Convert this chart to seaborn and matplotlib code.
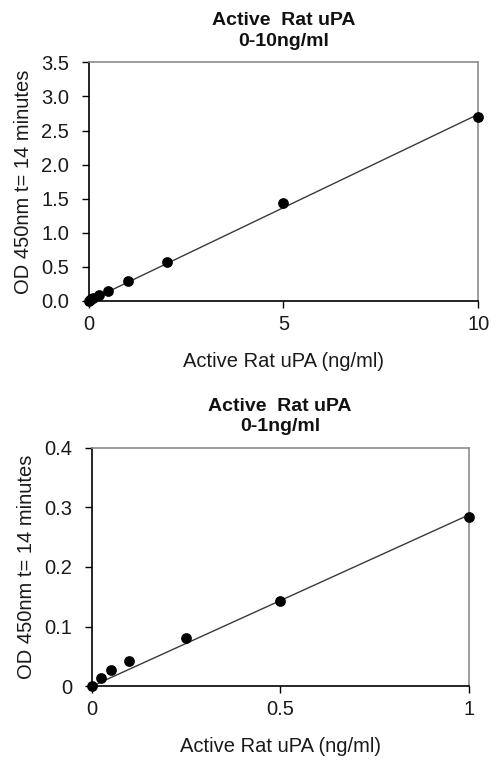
"""
Active Rat uPA standard curves (0-10 ng/ml and 0-1 ng/ml).
"""

import matplotlib
matplotlib.use("Agg")
import matplotlib.pyplot as plt
import numpy as np
import seaborn as sns

sns.set_theme(style="white")
plt.rcParams["font.family"] = ["Liberation Sans", "DejaVu Sans"]

# 0-10 ng/ml curve
conc_high = [0, 0.025, 0.05, 0.1, 0.25, 0.5, 1, 2, 5, 10]
od_high = [0.0, 0.014, 0.027, 0.042, 0.085, 0.148, 0.29, 0.565, 1.43, 2.70]
xticks_high = [0, 5, 10]
xticklabels_high = ["0", "5", "10"]
yticks_high = [0, 0.5, 1.0, 1.5, 2.0, 2.5, 3.0, 3.5]
yticklabels_high = ["0.0", "0.5", "1.0", "1.5", "2.0", "2.5", "3.0", "3.5"]

# 0-1 ng/ml curve
conc_low = [0, 0.025, 0.05, 0.1, 0.25, 0.5, 1]
od_low = [0.001, 0.014, 0.027, 0.042, 0.081, 0.143, 0.283]
xticks_low = [0, 0.5, 1]
xticklabels_low = ["0", "0.5", "1"]
yticks_low = [0, 0.1, 0.2, 0.3, 0.4]
yticklabels_low = ["0", "0.1", "0.2", "0.3", "0.4"]

TITLE = "Active  Rat uPA"
XLABEL = "Active Rat uPA (ng/ml)"
YLABEL = "OD 450nm t= 14 minutes"


def draw_curve(ax, x, y, title, xticks, xlabels, yticks, ylabels):
    x = np.asarray(x, dtype=float)
    y = np.asarray(y, dtype=float)
    # linear trendline forced through the origin
    slope = (x * y).sum() / (x * x).sum()
    fit_x = np.array([0, x.max()])
    ax.plot(fit_x, slope * fit_x, color="#3a3a3a", lw=1.0, zorder=2)
    sns.scatterplot(x=x, y=y, ax=ax, color="black", s=60, edgecolor="black",
                    linewidth=0, zorder=3, clip_on=False, legend=False)

    ax.set_xlim(xticks[0], xticks[-1])
    ax.set_ylim(yticks[0], yticks[-1])
    ax.set_xticks(xticks)
    ax.set_xticklabels(xlabels)
    ax.set_yticks(yticks)
    ax.set_yticklabels(ylabels)
    ax.tick_params(axis="both", direction="out", length=5, width=1, color="black",
                   labelsize=14.5, colors="#1a1a1a")
    ax.tick_params(axis="x", pad=5)
    ax.tick_params(axis="y", pad=9)
    ax.xaxis.set_ticks_position("bottom")
    ax.yaxis.set_ticks_position("left")

    for side in ["left", "bottom"]:
        ax.spines[side].set_color("black")
        ax.spines[side].set_linewidth(1.2)
    for side in ["top", "right"]:
        ax.spines[side].set_color("#8c8c8c")
        ax.spines[side].set_linewidth(1.2)

    ax.set_title(title, fontsize=14, fontweight="bold", color="#111111", pad=12,
                 linespacing=1.25)
    ax.set_xlabel(XLABEL, fontsize=14.5, color="#1a1a1a", labelpad=13)
    ax.set_ylabel(YLABEL, fontsize=14.5, color="#1a1a1a", labelpad=6)


fig = plt.figure(figsize=(4.96, 7.6), dpi=100)
ax_top = fig.add_axes([0.179, 0.604, 0.785, 0.314])
ax_bot = fig.add_axes([0.185, 0.097, 0.760, 0.314])

draw_curve(ax_top, conc_high, od_high, TITLE + "\n0-10ng/ml",
           xticks_high, xticklabels_high, yticks_high, yticklabels_high)
draw_curve(ax_bot, conc_low, od_low, TITLE + "\n0-1ng/ml",
           xticks_low, xticklabels_low, yticks_low, yticklabels_low)

fig.savefig("out.png", dpi=100, facecolor="white")
